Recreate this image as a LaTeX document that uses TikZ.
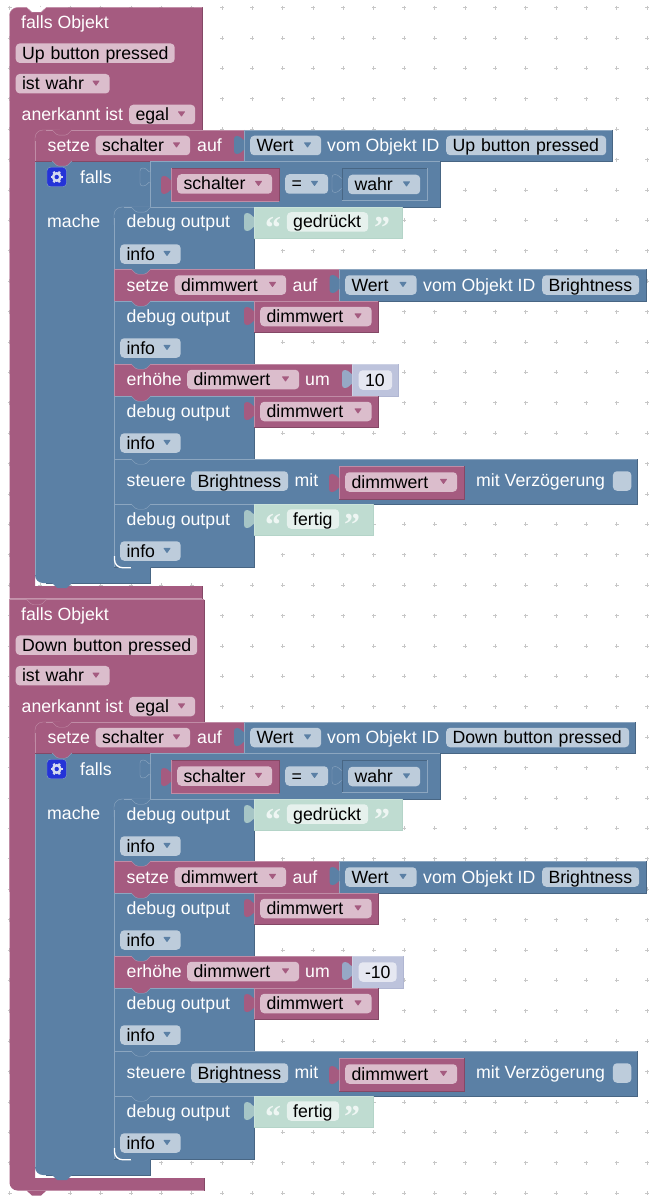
\documentclass[tikz,border=0pt]{standalone}
\usepackage{fontspec}
\setmainfont{Liberation Sans}
\newfontfamily\quotefont{Liberation Serif}

\definecolor{pinkblk}{HTML}{A55B80}
\definecolor{pinklight}{HTML}{C08CA6}
\definecolor{pinkdark}{HTML}{844866}
\definecolor{pinkfield}{HTML}{DBBDCC}
\definecolor{blueblk}{HTML}{5B80A5}
\definecolor{bluelight}{HTML}{8CA6C0}
\definecolor{bluedark}{HTML}{486684}
\definecolor{bluefield}{HTML}{BDCCDB}
\definecolor{greenblk}{HTML}{BFDCD1}
\definecolor{greenlight}{HTML}{CBE3DA}
\definecolor{greendark}{HTML}{B4D4C8}
\definecolor{greenfield}{HTML}{E6F1ED}
\definecolor{numblk}{HTML}{BDC3DC}
\definecolor{numlight}{HTML}{CCD1E4}
\definecolor{numdark}{HTML}{B0B6D2}
\definecolor{numfield}{HTML}{E5E7F1}
\definecolor{gearblue}{HTML}{2433D8}
\definecolor{gearwhite}{HTML}{D5DAF0}

\tikzset{
  lbl/.style={anchor=west,inner sep=0pt,text=white,text height=12pt,text depth=0pt},
  field/.style={anchor=west,rounded corners=4pt,inner xsep=6.3pt,inner ysep=0pt,minimum height=19.5pt,
    text=black,text height=12pt,text depth=0pt,align=left},
  griddot/.style={draw=black!22,line width=.7pt},
  quotemark/.style={inner sep=0pt,text=white,opacity=.75,text height=0pt,text depth=0pt,
    font=\quotefont\bfseries\fontsize{32}{32}\selectfont},
}

% colour, x1, y1, x2, y2
\newcommand{\blockrect}[5]{
  \fill[#1blk] (#2,#3) rectangle (#4,#5);
  \draw[#1light] (#2,#5) -- (#2,#3) -- (#4,#3);
  \draw[#1dark] (#4,#3) -- (#4,#5) -- (#2,#5);
}
% colour, name, x1, x2, y, text
\newcommand{\plainfield}[6]{
  \pgfmathsetmacro{\fieldw}{#4-#3-12.6}
  \node[field,fill=#1field,text width=\fieldw pt] (#2) at (#3,#5) {\mbox{#6}};
}
\newcommand{\dropfield}[6]{
  \plainfield{#1}{#2}{#3}{#4}{#5}{#6}
  \fill[#1blk,rounded corners=.6pt,shift={(#4-13.5,#5-.5)}] (-3.8,-2.6) -- (3.8,-2.6) -- (0,2.8) -- cycle;
}
% tab of a value block: options, x, top
\newcommand{\valtab}[3]{
  \path[#1,shift={(#2,#3)}] (0,10) .. controls (-2,10) and (-3,6) .. (-7,6)
    .. controls (-9,6) and (-10,7) .. (-10,9) -- (-10,21)
    .. controls (-10,23) and (-9,24) .. (-7,24)
    .. controls (-3,24) and (-2,20) .. (0,20);
}
% tab under a block: fill colour, line colour, x, y
\newcommand{\stacktab}[4]{
  \fill[#1blk,shift={(#3,#4)}] (17,0) -- (22.5,5.2) -- (31.5,5.2) -- (37,0) -- cycle;
  \draw[#2light,rounded corners=1.5pt,shift={(#3,#4)}] (17,0) -- (22.5,5.2) -- (31.5,5.2) -- (37,0);
}
% name, top
\newcommand{\debugvar}[2]{
  \blockrect{blue}{114}{#2}{254}{#2+63}
  \node[lbl] (#1-debug) at (126.5,#2+15) {debug output};
  \blockrect{pink}{254}{#2}{378.5}{#2+31}
  \valtab{fill=pinkblk}{254}{#2}
  \dropfield{pink}{#1-var}{260}{371.5}{#2+15.5}{dimmwert}
  \dropfield{blue}{#1-info}{120}{180.5}{#2+47}{info}
}
% name, top, text, field right, block right, closing quote
\newcommand{\debugtext}[6]{
  \blockrect{blue}{114}{#2}{254}{#2+63}
  \node[lbl] (#1-debug) at (126.5,#2+15) {debug output};
  \blockrect{green}{254}{#2}{#5}{#2+31}
  \valtab{fill=greenblk!75!blueblk}{254}{#2}
  \node[quotemark] (#1-open) at (273,#2+31) {“};
  \plainfield{green}{#1-text}{286.7}{#4}{#2+15}{#3}
  \node[quotemark] (#1-close) at (#6,#2+31) {”};
  \dropfield{blue}{#1-info}{120}{180.5}{#2+47}{info}
}

\begin{document}
\begin{tikzpicture}[x=1pt,y=-1pt,font=\fontsize{17.7}{20}\selectfont]
  \useasboundingbox (0,0) rectangle (657,1198);
  \foreach \i in {0,...,21}
    \foreach \j in {0,...,39}
      \draw[griddot,shift={(9.5+30.36*\i,7.6+30.4*\j)}] (-2,0) -- (2,0) (0,-2) -- (0,2);

  \foreach \pre/\dy/\head/\hatright/\headright/\idright/\valright/\inc/\incfield/\incright/\tc/\bc in {
    up/0/Up button pressed/202.5/174.5/606/612.5/10/392/398/8pt/0pt,
    down/592/Down button pressed/204/197/629/635.5/-10/396.5/403.5/0pt/8pt}{
  \begin{scope}[yshift=-\dy pt]
    % the pink hat round everything
    \fill[pinkblk] (\hatright,7.5) -- (\hatright,130) -- (35,130) -- (35,586) -- (\hatright,586) -- (\hatright,598.5)
      [rounded corners=\bc] -- (9.5,598.5) -- (9.5,300) [rounded corners=\tc] -- (9.5,7.5) [sharp corners] -- (\hatright,7.5) -- cycle;
    \draw[pinkdark] (\hatright,7.5) -- (\hatright,130) (\hatright,586) -- (\hatright,598.5);
    \draw[pinklight] (9.5,300) [rounded corners=\tc] -- (9.5,7.5) -- (\hatright,7.5);
    \node[lbl] (\pre-head) at (21,22.3) {falls Objekt};
    \plainfield{pink}{\pre-obj}{15.5}{\headright}{53.2}{\head}
    \dropfield{pink}{\pre-state}{15.5}{109.5}{83.7}{ist wahr}
    \node[lbl] (\pre-ack) at (21.5,114.3) {anerkannt ist};
    \dropfield{pink}{\pre-egal}{129}{195}{114.5}{egal}

    % falls block
    \fill[blueblk] (150,161) -- (35,161) [rounded corners=8pt] -- (35,583) -- (60,583) [sharp corners] -- (150,583) -- (150,567) -- (114,567) -- (114,207) -- (150,207) -- cycle;
    \draw[bluedark] (150,567) -- (150,583) -- (46,583);
    \draw[bluelight] (35,161) -- (35,575);

    % setze schalter
    \blockrect{pink}{35}{130}{244}{161}
    \blockrect{blue}{244}{130}{\valright}{161}
    \fill[pinkblk] (34,129) rectangle (46,141);
    \draw[pinklight,rounded corners=8pt] (35,150) -- (35,130) -- (60,130);
    \valtab{fill=blueblk}{244}{130}
    \node[lbl] (\pre-setze) at (47.5,145.5) {setze};
    \dropfield{pink}{\pre-schalter}{95.5}{190}{145.5}{schalter}
    \node[lbl] (\pre-auf) at (197,145.5) {auf};
    \dropfield{blue}{\pre-wert}{250}{321}{145.5}{Wert}
    \node[lbl] (\pre-vom) at (327,145.5) {vom Objekt ID};
    \plainfield{blue}{\pre-id}{446}{\idright}{145.5}{\head}
    \stacktab{pink}{pink}{35}{130}
    \stacktab{pink}{blue}{35}{161}

    % falls row
    \node[draw=bluelight,fill=gearblue,rounded corners=3.5pt,minimum size=19.5pt,inner sep=0pt,anchor=center] (\pre-gear) at (56.7,177) {};
    \foreach \a in {0,60,...,300}
      \draw[gearwhite,line width=2.2pt,shift={(\pre-gear)}] (\a:3) -- (\a:6.2);
    \fill[gearwhite,shift={(\pre-gear)}] (0,0) circle (5pt);
    \fill[gearblue,shift={(\pre-gear)}] (0,0) circle (2.2pt);
    \node[lbl] (\pre-falls) at (80,177.3) {falls};
    \node[lbl] (\pre-mache) at (47,221.3) {mache};
    \blockrect{blue}{150}{161}{440}{207}
    \valtab{draw=bluelight,fill=blueblk}{150}{162}
    \fill[pinkblk] (171,168) rectangle (279,201);
    \draw[pinkdark] (171,168) -- (279,168) -- (279,201);
    \draw[pinklight] (171,168) -- (171,201) -- (279,201);
    \valtab{fill=pinkblk}{171}{170}
    \dropfield{pink}{\pre-var}{177}{272}{184}{schalter}
    \dropfield{blue}{\pre-eq}{285}{328}{184}{=}
    \draw[bluedark] (342,200.5) -- (342,168) -- (427.5,168);
    \draw[bluelight] (427.5,168) -- (427.5,200.5) -- (342,200.5);
    \valtab{draw=bluelight,fill=blueblk}{342}{168.5}
    \dropfield{blue}{\pre-wahr}{348}{420}{184.5}{wahr}

    % mache stack
    \debugtext{\pre-d1}{207}{gedrückt}{368}{402}{382}
    \fill[blueblk] (113,206) rectangle (124,218);
    \draw[bluelight,rounded corners=8pt] (114,225) -- (114,207) -- (150,207);
    \stacktab{blue}{blue}{114}{207}

    \blockrect{pink}{114}{269}{339.5}{301}
    \blockrect{blue}{339.5}{269}{645.7}{301}
    \valtab{fill=blueblk}{339.5}{269}
    \node[lbl] (\pre-setze2) at (126.5,285) {setze};
    \dropfield{pink}{\pre-dim}{174.5}{286}{285}{dimmwert}
    \node[lbl] (\pre-auf2) at (292.5,285) {auf};
    \dropfield{blue}{\pre-wert2}{345}{416.5}{285}{Wert}
    \node[lbl] (\pre-vom2) at (423,285) {vom Objekt ID};
    \plainfield{blue}{\pre-id2}{542}{639}{285}{Brightness}

    \debugvar{\pre-d2}{301}

    \blockrect{pink}{114}{364}{352}{396}
    \blockrect{num}{352}{364}{\incright}{396}
    \valtab{fill=numblk!60!blueblk}{352}{364}
    \node[lbl] (\pre-inc) at (126.5,379.5) {erhöhe};
    \dropfield{pink}{\pre-dim2}{187}{299}{379.5}{dimmwert}
    \node[lbl] (\pre-um) at (305,379.5) {um};
    \plainfield{num}{\pre-num}{358.5}{\incfield}{380}{\inc}

    \debugvar{\pre-d3}{396}

    \blockrect{blue}{114}{459}{637}{504}
    \node[lbl] (\pre-steuere) at (126.5,480.5) {steuere};
    \plainfield{blue}{\pre-id3}{191}{288}{481}{Brightness}
    \node[lbl] (\pre-mit) at (294.5,480.5) {mit};
    \blockrect{pink}{339}{466}{464}{499}
    \valtab{fill=pinkblk}{339}{468}
    \dropfield{pink}{\pre-dim3}{345}{457}{482}{dimmwert}
    \node[lbl] (\pre-delay) at (476,480.5) {mit Verzögerung};
    \node[fill=bluefield,rounded corners=4pt,minimum width=18.5pt,minimum height=19.5pt,inner sep=0pt,anchor=west] (\pre-check) at (612.7,481) {};

    \debugtext{\pre-d4}{504}{fertig}{339}{373}{352}

    % notches between the rows
    \stacktab{blue}{pink}{114}{269}
    \stacktab{pink}{blue}{114}{301}
    \stacktab{blue}{pink}{114}{364}
    \stacktab{pink}{blue}{114}{396}
    \stacktab{blue}{blue}{114}{459}
    \stacktab{blue}{blue}{114}{504}
    \draw[white,line width=1.3pt,rounded corners=8pt] (114.5,556) -- (114.5,567.7) -- (131,567.7);
    \fill[blueblk,shift={(114,567)}] (17,0) -- (22.5,5.2) -- (31.5,5.2) -- (37,0) -- cycle;
    \fill[blueblk,shift={(35,583)}] (17,0) -- (22.5,5.2) -- (31.5,5.2) -- (37,0) -- cycle;
  \end{scope}
  }

  % notches of the two hats
  \fill[white,shift={(9.5,7)}] (17,0) -- (22.5,5) -- (31.5,5) -- (37,0) -- cycle;
  \draw[pinklight,shift={(9.5,7.5)}] (17,0) -- (22.5,5) -- (31.5,5) -- (37,0);
  \stacktab{pink}{pink}{9.5}{599.5}
  \fill[pinkblk,shift={(9.5,1190.5)}] (17,0) -- (22.5,5) -- (31.5,5) -- (37,0) -- cycle;
\end{tikzpicture}
\end{document}
